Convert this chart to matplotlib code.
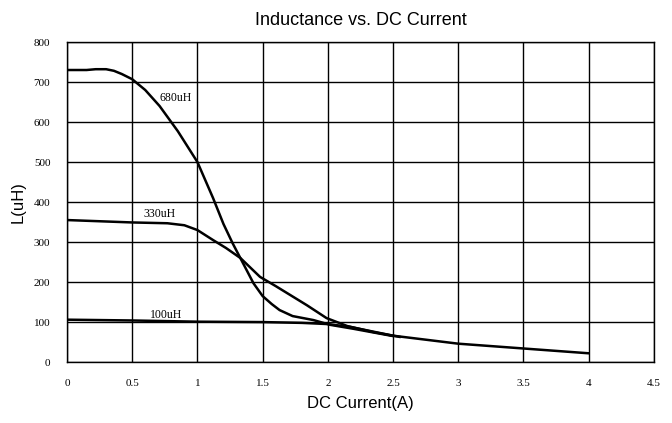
import numpy as np
import matplotlib.pyplot as plt

# 680uH curve
i680 = [0, 0.15, 0.22, 0.3, 0.36, 0.42, 0.5, 0.6, 0.71, 0.85, 1.0, 1.06, 1.12, 1.2, 1.27, 1.35, 1.43, 1.5, 1.57, 1.63, 1.73, 1.89, 2.02, 2.2, 2.5]
l680 = [730, 730, 732, 732, 728, 720, 707, 680, 640, 577, 500, 455, 410, 345, 297, 247, 197, 165, 145, 130, 115, 105, 93, 83, 65]

# 330uH curve
i330 = [0, 0.25, 0.5, 0.77, 0.9, 1.0, 1.12, 1.22, 1.33, 1.48, 1.6, 1.69, 1.84, 1.99, 2.15, 2.35, 2.55]
l330 = [355, 352, 349, 347, 342, 330, 305, 285, 260, 213, 190, 172, 142, 110, 90, 75, 63]

# 100uH curve
i100 = [0, 0.5, 1.0, 1.5, 1.8, 2.0, 2.17, 2.5, 3.0, 3.5, 4.0]
l100 = [106, 104, 101, 100, 98, 95, 88, 66, 46, 34, 22]

xticks = [0, 0.5, 1, 1.5, 2, 2.5, 3, 3.5, 4, 4.5]
xtick_labels = ['0', '0.5', '1', '1.5', '2', '2.5', '3', '3.5', '4', '4.5']
yticks = [0, 100, 200, 300, 400, 500, 600, 700, 800]

fig = plt.figure(figsize=(6.72, 4.23), dpi=100)
ax = fig.add_axes([0.0997, 0.144, 0.8733, 0.7567])

ax.plot(i680, l680, color='black', linewidth=1.8)
ax.plot(i330, l330, color='black', linewidth=1.8)
ax.plot(i100, l100, color='black', linewidth=1.8)

serif = 'Liberation Serif'
ax.text(0.83, 660, '680uH', fontsize=8.5, family=serif, ha='center', va='center')
ax.text(0.71, 370, '330uH', fontsize=8.5, family=serif, ha='center', va='center')
ax.text(0.76, 117, '100uH', fontsize=8.5, family=serif, ha='center', va='center')

ax.set_xlim(0, 4.5)
ax.set_ylim(0, 800)
ax.set_xticks(xticks)
ax.set_xticklabels(xtick_labels, family=serif, fontsize=8)
ax.set_yticks(yticks)
ax.set_yticklabels([str(v) for v in yticks], family=serif, fontsize=8)
ax.tick_params(length=0, pad=12)
ax.tick_params(axis='y', pad=12)
ax.grid(True, color='black', linewidth=1)
for s in ax.spines.values():
    s.set_color('black')
    s.set_linewidth(1)

ax.set_xlabel('DC Current(A)', family='Liberation Sans', fontsize=12, labelpad=6)
ax.set_ylabel('L(uH)', family='Liberation Sans', fontsize=12, labelpad=6)
ax.set_title('Inductance vs. DC Current', family='Liberation Sans', fontsize=13, pad=12)

fig.savefig('out.png', dpi=100)
